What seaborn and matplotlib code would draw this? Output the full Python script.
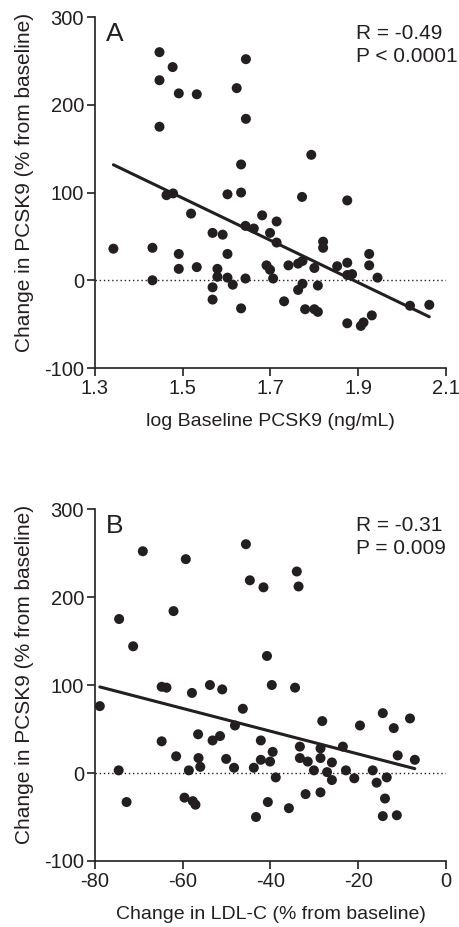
import numpy as np
import matplotlib.pyplot as plt
import seaborn as sns

# Painel A: log baseline PCSK9 vs change in PCSK9
log_pcsk9 = [1.447, 1.477, 1.447, 1.491, 1.532, 1.644, 1.623, 1.644, 1.447, 1.633,
             1.463, 1.478, 1.602, 1.633, 1.519, 1.681, 1.714, 1.793, 1.772, 1.875,
             1.643, 1.662, 1.699, 1.714, 1.568, 1.591, 1.342, 1.431, 1.491, 1.602,
             1.491, 1.532, 1.579, 1.579, 1.602, 1.614, 1.643, 1.691, 1.699, 1.706,
             1.431, 1.568, 1.568, 1.633, 1.820, 1.820, 1.925, 1.925, 1.741, 1.763,
             1.773, 1.800, 1.852, 1.875, 1.875, 1.886, 1.944, 1.773, 1.763, 1.808,
             1.731, 1.779, 1.800, 1.808, 1.875, 1.906, 1.912, 1.931, 2.018, 2.062]
chg_pcsk9_a = [260, 243, 228, 213, 212, 252, 219, 184, 175, 132,
               97, 99, 98, 100, 76, 74, 67, 143, 95, 91,
               62, 59, 54, 43, 54, 52, 36, 37, 30, 30,
               13, 15, 13, 4, 3, -5, 2, 17, 12, 2,
               0, -8, -22, -32, 44, 37, 30, 17, 17, 19,
               22, 14, 16, 20, 6, 7, 3, -4, -11, -6,
               -24, -33, -33, -36, -49, -52, -48, -40, -29, -28]

# Painel B: change in LDL-C vs change in PCSK9
chg_ldl = [-69.1, -59.3, -45.6, -44.7, -41.6, -62.1, -74.5, -71.3, -40.8, -34.0,
           -33.6, -78.9, -64.8, -63.7, -57.9, -53.8, -51.0, -39.7, -46.3, -48.1,
           -64.8, -56.5, -53.2, -51.5, -42.2, -61.5, -56.4, -56.0, -50.1, -48.3,
           -58.6, -74.6, -43.8, -42.2, -40.1, -39.5, -38.8, -72.8, -59.6, -57.7,
           -57.1, -40.6, -43.3, -34.4, -28.2, -19.6, -14.4, -11.9, -8.2, -33.3,
           -28.6, -23.5, -33.3, -31.5, -28.6, -26.0, -30.1, -27.1, -26.0, -22.8,
           -20.9, -16.7, -15.8, -13.5, -11.0, -7.1, -35.8, -32.0, -28.6, -13.9,
           -14.4, -11.2]
chg_pcsk9_b = [252, 243, 260, 219, 211, 184, 175, 144, 133, 229,
               212, 76, 98, 97, 91, 100, 95, 100, 73, 54,
               36, 44, 37, 42, 37, 19, 17, 7, 16, 6,
               3, 3, 6, 15, 13, 24, -5, -33, -28, -32,
               -36, -33, -50, 97, 59, 54, 68, 51, 62, 30,
               28, 30, 17, 13, 17, 12, 3, 1, -8, 3,
               -6, 3, -11, -5, 20, 15, -40, -24, -22, -29,
               -49, -48]

sns.set_style('ticks')
plt.rcParams['font.family'] = ['Liberation Sans', 'DejaVu Sans']
plt.rcParams['axes.unicode_minus'] = False
cor = '#231f20'

fig = plt.figure(figsize=(4.6, 9.27), dpi=100)
ax1 = fig.add_axes([0.2065, 0.603, 0.763, 0.3786])
ax2 = fig.add_axes([0.2065, 0.0712, 0.763, 0.3797])

paineis = [
    (ax1, log_pcsk9, chg_pcsk9_a, 'A', 'R = -0.49\nP < 0.0001',
     'log Baseline PCSK9 (ng/mL)', (1.3, 2.1), [1.3, 1.5, 1.7, 1.9, 2.1], ['1.3', '1.5', '1.7', '1.9', '2.1']),
    (ax2, chg_ldl, chg_pcsk9_b, 'B', 'R = -0.31\nP = 0.009',
     'Change in LDL-C (% from baseline)', (-80, 0), [-80, -60, -40, -20, 0], ['-80', '-60', '-40', '-20', '0']),
]

for ax, x, y, letra, stats, xlabel, xlim, xt, xtl in paineis:
    ax.axhline(0, color=cor, lw=1.0, ls=(0, (1, 2)), zorder=1)
    sns.regplot(x=x, y=y, ax=ax, ci=None,
                scatter_kws=dict(s=52, color=cor, edgecolor='none', alpha=1, zorder=3),
                line_kws=dict(color=cor, lw=2.2, zorder=2))
    ax.set_xlim(*xlim)
    ax.set_ylim(-100, 300)
    ax.set_xticks(xt)
    ax.set_xticklabels(xtl)
    ax.set_yticks([-100, 0, 100, 200, 300])
    ax.set_xlabel(xlabel, fontsize=14, color=cor, labelpad=11)
    ax.set_ylabel('Change in PCSK9 (% from baseline)', fontsize=15, color=cor)
    ax.yaxis.set_label_coords(-0.175, 0.53)
    ax.tick_params(labelsize=14.5, length=6, width=1.2, color=cor, labelcolor=cor, pad=2)
    for s in ['left', 'bottom']:
        ax.spines[s].set_linewidth(1.2)
        ax.spines[s].set_color(cor)
    sns.despine(ax=ax)
    ax.text(0.03, 0.985, letra, transform=ax.transAxes, fontsize=19, color=cor, va='top', ha='left')
    ax.text(0.745, 0.98, stats, transform=ax.transAxes, fontsize=15, color=cor,
            va='top', ha='left', linespacing=1.25)

plt.savefig('out.png', dpi=100)
